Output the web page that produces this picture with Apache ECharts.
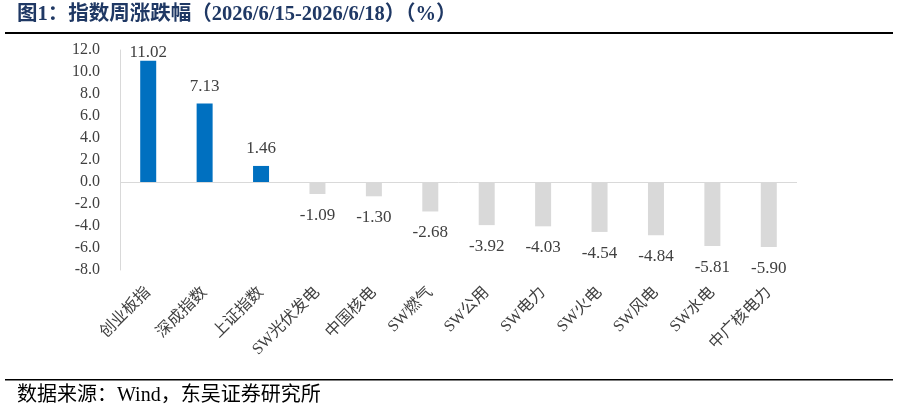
<!DOCTYPE html>
<html><head><meta charset="utf-8">
<script src="https://cdn.jsdelivr.net/npm/echarts@6/dist/echarts.min.js"></script>
<style>html,body{margin:0;padding:0;background:#fff}#c{width:897px;height:412px}</style>
</head><body><div id="c"></div>
<script>
const categories = ['创业板指','深成指数','上证指数','SW光伏发电','中国核电','SW燃气','SW公用','SW电力','SW火电','SW风电','SW水电','中广核电力'];
const values = [11.02, 7.13, 1.46, -1.09, -1.30, -2.68, -3.92, -4.03, -4.54, -4.84, -5.81, -5.90];
const titleText = '图1：指数周涨跌幅（2026/6/15-2026/6/18）（%）';
const sourceText = '数据来源：Wind，东吴证券研究所';

const serif = '"Liberation Serif","Times New Roman","Noto Sans CJK SC",serif';
const yMax = 12;
const chart = echarts.init(document.getElementById('c'));
chart.setOption({
  animation: false,
  backgroundColor: '#fff',
  grid: {left: 120, right: 100, top: 50, bottom: 142, containLabel: false},
  graphic: [
    {type: 'text', left: 17, top: 4, style: {text: titleText, font: 'bold 20.5px ' + serif, fill: '#1F3864'}},
    {type: 'rect', shape: {x: 5, y: 32, width: 888, height: 2}, style: {fill: '#000'}},
    {type: 'rect', shape: {x: 5, y: 379, width: 888, height: 1.5}, style: {fill: '#000'}},
    {type: 'text', left: 17, top: 386, style: {text: sourceText, font: '20px ' + serif, fill: '#000'}}
  ],
  xAxis: {
    type: 'category', data: categories,
    axisLine: {show: false, onZero: false},
    axisTick: {show: false},
    axisLabel: {rotate: 45, interval: 0, margin: 20, fontFamily: serif, fontSize: 16, color: '#404040'}
  },
  yAxis: {
    type: 'value', min: -8, max: yMax, interval: 2,
    axisLine: {show: true, lineStyle: {color: '#D9D9D9'}},
    axisTick: {show: false},
    splitLine: {show: false},
    axisLabel: {margin: 20, fontFamily: serif, fontSize: 16, color: '#404040', formatter: v => v.toFixed(1)}
  },
  series: [{
    type: 'bar', barWidth: 16,
    data: values.map(v => ({value: v, itemStyle: {color: v >= 0 ? '#0070C0' : '#D9D9D9'},
      label: {position: v >= 0 ? 'top' : 'bottom', distance: v >= 0 ? (yMax - v < 2 ? 0 : 9) : 13}})),
    label: {show: true, fontFamily: serif, fontSize: 17, color: '#404040', formatter: p => p.value.toFixed(2)},
    markLine: {silent: true, symbol: 'none', label: {show: false}, lineStyle: {color: '#D9D9D9', type: 'solid', width: 1},
      data: [{yAxis: 0}]}
  }]
});
</script></body></html>
